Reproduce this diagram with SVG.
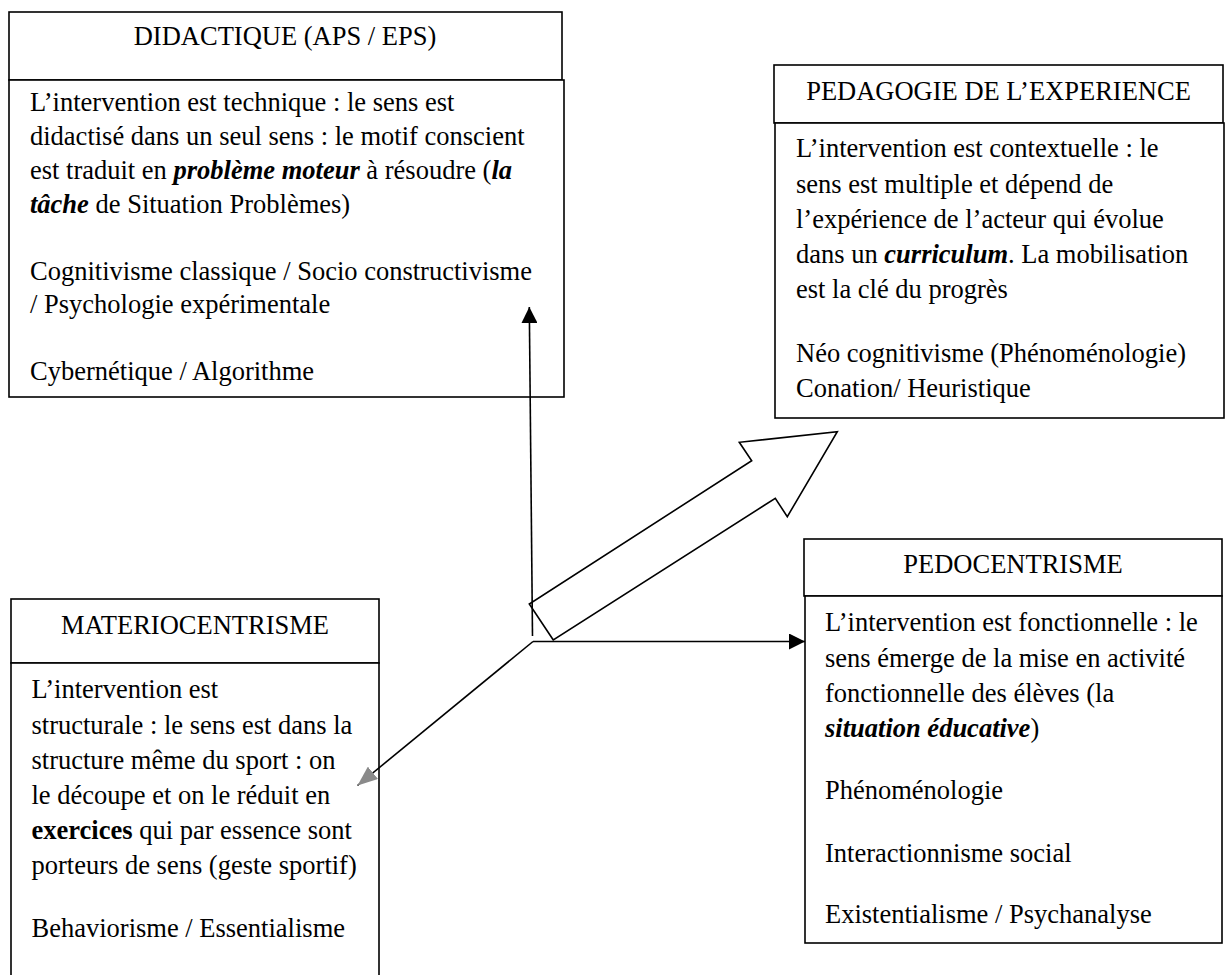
<svg xmlns="http://www.w3.org/2000/svg" width="1227" height="975" viewBox="0 0 1227 975">
  <style>
    .box { fill: #fff; stroke: #000; stroke-width: 1.6; }
    .t { font-family: "Liberation Serif", "Times New Roman", serif; font-size: 26.5px; fill: #000; }
    .ttl { text-anchor: middle; }
    .bi { font-weight: bold; font-style: italic; }
    .b { font-weight: bold; }
    .ln { fill: none; stroke: #000; stroke-width: 1.6; }
    .block { fill: #fff; stroke: #000; stroke-width: 1.6; stroke-linejoin: miter; }
  </style>
  <defs>
    <marker id="headBlack" markerUnits="userSpaceOnUse" markerWidth="16" markerHeight="16" refX="16" refY="8" orient="auto">
      <path d="M0,0 L16,8 L0,16 z" fill="#000"/>
    </marker>
    <marker id="headGrey" markerUnits="userSpaceOnUse" markerWidth="20" markerHeight="16" refX="20" refY="8" orient="auto">
      <path d="M0,0 L20,8 L0,16 z" fill="#8a8a8a"/>
    </marker>
  </defs>

  <rect width="1227" height="975" fill="#fff"/>

  <!-- DIDACTIQUE -->
  <g id="didactique">
    <rect class="box" x="9" y="12" width="553" height="68"/>
    <rect class="box" x="9" y="80" width="555" height="317"/>
    <text class="t ttl" x="285" y="45">DIDACTIQUE (APS / EPS)</text>
    <text class="t" x="30" y="111">L’intervention est technique : le sens est</text>
    <text class="t" x="30" y="145">didactisé dans un seul sens : le motif conscient</text>
    <text class="t" x="30" y="179">est traduit en <tspan class="bi">problème moteur</tspan> à résoudre (<tspan class="bi">la</tspan></text>
    <text class="t" x="30" y="213"><tspan class="bi">tâche</tspan> de Situation Problèmes)</text>
    <text class="t" x="30" y="280">Cognitivisme classique / Socio constructivisme</text>
    <text class="t" x="30" y="313">/ Psychologie expérimentale</text>
    <text class="t" x="30" y="380">Cybernétique / Algorithme</text>
  </g>

  <!-- PEDAGOGIE DE L'EXPERIENCE -->
  <g id="pedagogie-experience">
    <rect class="box" x="774" y="65" width="449" height="58"/>
    <rect class="box" x="775" y="123" width="449" height="295"/>
    <text class="t ttl" x="998.5" y="100">PEDAGOGIE DE L’EXPERIENCE</text>
    <text class="t" x="796" y="157">L’intervention est contextuelle : le</text>
    <text class="t" x="796" y="193">sens est multiple et dépend de</text>
    <text class="t" x="796" y="228">l’expérience de l’acteur qui évolue</text>
    <text class="t" x="796" y="263">dans un <tspan class="bi">curriculum</tspan>. La mobilisation</text>
    <text class="t" x="796" y="298">est la clé du progrès</text>
    <text class="t" x="796" y="362">Néo cognitivisme (Phénoménologie)</text>
    <text class="t" x="796" y="397">Conation/ Heuristique</text>
  </g>

  <!-- PEDOCENTRISME -->
  <g id="pedocentrisme">
    <rect class="box" x="804" y="539" width="418" height="57"/>
    <rect class="box" x="805" y="596" width="417" height="347"/>
    <text class="t ttl" x="1013" y="573">PEDOCENTRISME</text>
    <text class="t" x="825" y="631">L’intervention est fonctionnelle : le</text>
    <text class="t" x="825" y="667">sens émerge de la mise en activité</text>
    <text class="t" x="825" y="702">fonctionnelle des élèves (la</text>
    <text class="t" x="825" y="737"><tspan class="bi">situation éducative</tspan>)</text>
    <text class="t" x="825" y="799">Phénoménologie</text>
    <text class="t" x="825" y="862">Interactionnisme social</text>
    <text class="t" x="825" y="923">Existentialisme / Psychanalyse</text>
  </g>

  <!-- MATERIOCENTRISME -->
  <g id="materiocentrisme">
    <rect class="box" x="11" y="599" width="368" height="64"/>
    <rect class="box" x="11" y="663" width="368" height="330"/>
    <text class="t ttl" x="195" y="634">MATERIOCENTRISME</text>
    <text class="t" x="31.5" y="698">L’intervention est</text>
    <text class="t" x="31.5" y="734">structurale : le sens est dans la</text>
    <text class="t" x="31.5" y="769">structure même du sport : on</text>
    <text class="t" x="31.5" y="804">le découpe et on le réduit en</text>
    <text class="t" x="31.5" y="839"><tspan class="b">exercices</tspan> qui par essence sont</text>
    <text class="t" x="31.5" y="874">porteurs de sens (geste sportif)</text>
    <text class="t" x="31.5" y="937">Behaviorisme / Essentialisme</text>
  </g>

  <!-- connectors, drawn over the boxes so the arrowheads stay visible -->
  <g id="connectors">
    <polygon class="block" points="553.3,640 529.3,604 751.7,460.7 739.3,442.3 837.3,431.7 787.3,516.7 775.3,498.3"/>
    <path class="ln" d="M532.5,636 L529.3,307" marker-end="url(#headBlack)"/>
    <path class="ln" d="M533,641.5 L805,641.5" marker-end="url(#headBlack)"/>
    <path class="ln" d="M533,641.5 L357.5,785.5" marker-end="url(#headGrey)"/>
  </g>
</svg>
